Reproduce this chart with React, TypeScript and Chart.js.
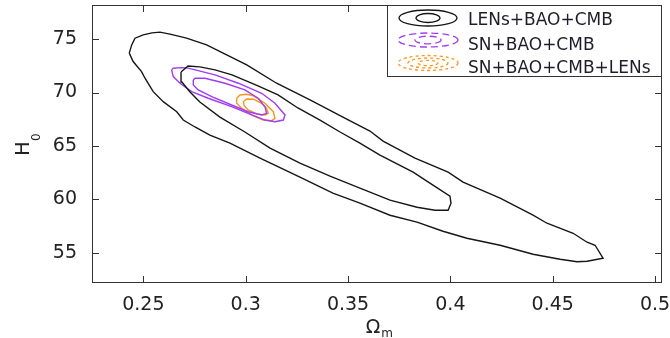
import React, { useEffect, useRef } from 'react';
import { Chart, registerables } from 'chart.js';

Chart.register(...registerables);

// ---- axis data ----
const xTicks = [0.25, 0.3, 0.35, 0.4, 0.45, 0.5];
const yTicks = [55, 60, 65, 70, 75];
const xRange = [0.2249, 0.5034];
const yRange = [52.15, 78.2];
const xTitle = 'Ω';
const xTitleSub = 'm';
const yTitle = 'H';
const yTitleSub = '0';

// ---- legend ----
const seriesNames = ['LENs+BAO+CMB', 'SN+BAO+CMB', 'SN+BAO+CMB+LENs'];
const seriesColors = ['#161616', '#a03cf2', '#f5961f'];

// ---- contours (Ωm, H0) ----
const lensOuter: [number, number][] = [
  [0.2431, 73.69], [0.2443, 74.46], [0.2459, 75.09], [0.2499, 75.4], [0.2542, 75.59],
  [0.2581, 75.66], [0.263, 75.47], [0.2711, 75.09], [0.2809, 74.46], [0.2907, 73.53],
  [0.3005, 72.59], [0.3151, 70.87], [0.3314, 69.3], [0.3475, 67.7], [0.3607, 66.39],
  [0.3671, 65.45], [0.3827, 63.85], [0.3989, 62.54], [0.4062, 61.6], [0.4243, 60.1],
  [0.4404, 58.5], [0.4472, 57.75], [0.46, 56.81], [0.4668, 55.97], [0.4707, 55.69],
  [0.4746, 54.47], [0.4668, 54.19], [0.4619, 54.14], [0.4536, 54.38], [0.4404, 54.84],
  [0.4243, 55.69], [0.4081, 56.34], [0.3964, 57.0], [0.3837, 57.85], [0.3705, 58.5],
  [0.3558, 59.63], [0.3426, 60.57], [0.3265, 62.07], [0.307, 63.85], [0.2923, 65.26],
  [0.2825, 66.01], [0.2752, 66.77], [0.2695, 67.42], [0.2663, 68.2], [0.2597, 69.14],
  [0.2548, 70.08], [0.2508, 71.34], [0.2491, 71.96], [0.245, 72.9],
];
const lensInner: [number, number][] = [
  [0.2684, 71.93], [0.2718, 72.49], [0.2776, 72.4], [0.285, 72.12], [0.2933, 71.65],
  [0.306, 70.62], [0.3158, 69.77], [0.3255, 68.55], [0.3363, 67.42], [0.3461, 66.3],
  [0.3558, 65.26], [0.3656, 64.14], [0.3818, 62.54], [0.3915, 61.32], [0.3998, 60.29],
  [0.4003, 59.63], [0.3989, 58.97], [0.3925, 58.97], [0.3837, 59.25], [0.3705, 59.91],
  [0.3558, 61.04], [0.3412, 62.16], [0.3265, 63.39], [0.3119, 64.79], [0.2996, 66.3],
  [0.2874, 67.7], [0.2776, 69.11], [0.2728, 70.05], [0.2688, 70.99],
];
const snOuter: [number, number][] = [
  [0.2638, 72.12], [0.2646, 72.28], [0.2687, 72.33], [0.2719, 72.28], [0.285, 71.65],
  [0.2964, 70.87], [0.3078, 69.93], [0.3143, 68.99], [0.3192, 67.89], [0.3184, 67.42],
  [0.3143, 67.26], [0.3094, 67.42], [0.3012, 68.05], [0.2931, 68.67], [0.2817, 69.46],
  [0.2736, 70.08], [0.2679, 70.87], [0.2646, 71.49],
];
const snInner: [number, number][] = [
  [0.2744, 71.18], [0.2752, 71.34], [0.2801, 71.34], [0.2899, 70.87], [0.2996, 70.24],
  [0.3061, 69.46], [0.3094, 68.67], [0.3102, 68.05], [0.3078, 67.89], [0.3012, 68.2],
  [0.2931, 68.83], [0.2834, 69.61], [0.2768, 70.24], [0.2744, 70.71],
];
const allOuter: [number, number][] = [
  [0.2956, 69.46], [0.2972, 69.77], [0.3005, 69.84], [0.3037, 69.7], [0.3094, 68.99],
  [0.3135, 68.2], [0.3143, 67.58], [0.3127, 67.36], [0.3086, 67.42], [0.3029, 67.89],
  [0.298, 68.52], [0.2956, 68.99],
];
const allInner: [number, number][] = [
  [0.2988, 69.14], [0.3005, 69.39], [0.3037, 69.37], [0.3078, 68.99], [0.3102, 68.52],
  [0.311, 68.05], [0.3094, 67.89], [0.3054, 67.99], [0.3012, 68.36], [0.2993, 68.77],
];

const contours: { pts: [number, number][]; series: number }[] = [
  { pts: lensOuter, series: 0 },
  { pts: lensInner, series: 0 },
  { pts: snOuter, series: 1 },
  { pts: snInner, series: 1 },
  { pts: allOuter, series: 2 },
  { pts: allInner, series: 2 },
];

const FONT = '"DejaVu Sans", "Liberation Sans", Arial, sans-serif';

const framePlugin = {
  id: 'matlabFrame',
  afterDatasetsDraw(chart: any) {
    const { ctx, chartArea: a, scales } = chart;
    const x = scales.x;
    const y = scales.y;
    ctx.save();
    ctx.strokeStyle = '#333';
    ctx.lineWidth = 1;
    ctx.strokeRect(a.left + 0.5, a.top + 0.5, a.right - a.left - 1, a.bottom - a.top - 1);
    ctx.beginPath();
    const tl = 7;
    for (const v of xTicks) {
      const px = Math.round(x.getPixelForValue(v)) + 0.5;
      ctx.moveTo(px, a.bottom);
      ctx.lineTo(px, a.bottom - tl);
      ctx.moveTo(px, a.top);
      ctx.lineTo(px, a.top + tl);
    }
    for (const v of yTicks) {
      const py = Math.round(y.getPixelForValue(v)) + 0.5;
      ctx.moveTo(a.left, py);
      ctx.lineTo(a.left + tl, py);
      ctx.moveTo(a.right, py);
      ctx.lineTo(a.right - tl, py);
    }
    ctx.stroke();
    ctx.restore();
  },
  afterDraw(chart: any) {
    const { ctx, chartArea: a } = chart;
    ctx.save();
    // legend box
    const bx = 387.5;
    const by = a.top + 0.5;
    const bw = a.right - 0.5 - bx;
    const bh = 71;
    ctx.fillStyle = '#fff';
    ctx.fillRect(bx, by, bw, bh);
    ctx.strokeStyle = '#333';
    ctx.lineWidth = 1;
    ctx.strokeRect(bx, by, bw, bh);

    const rows = [
      { cy: 18, base: 25, rings: [[29, 8], [12, 4.5]], dash: [] as number[] },
      { cy: 40, base: 49.5, rings: [[30, 7], [13, 3.8]], dash: [7, 4] },
      { cy: 63, base: 73, rings: [[30, 7.5], [20, 5], [10, 2.6]], dash: [3, 3] },
    ];
    rows.forEach((r, i) => {
      ctx.strokeStyle = seriesColors[i];
      ctx.lineWidth = 1.3;
      ctx.setLineDash(r.dash);
      for (const [rx, ry] of r.rings) {
        ctx.beginPath();
        ctx.ellipse(428, r.cy, rx, ry, 0, 0, Math.PI * 2);
        ctx.stroke();
      }
      ctx.setLineDash([]);
      ctx.fillStyle = '#1e1e2a';
      ctx.font = `17px ${FONT}`;
      ctx.textAlign = 'left';
      ctx.textBaseline = 'alphabetic';
      ctx.fillText(seriesNames[i], 468, r.base);
    });

    // x title
    ctx.fillStyle = '#222';
    ctx.font = `19px ${FONT}`;
    ctx.textAlign = 'left';
    ctx.textBaseline = 'alphabetic';
    const cx = (a.left + a.right) / 2;
    const wOm = ctx.measureText(xTitle).width;
    ctx.fillText(xTitle, cx - wOm / 2 - 4, 333);
    ctx.font = `12px ${FONT}`;
    ctx.fillText(xTitleSub, cx + wOm / 2 - 3, 337);

    // y title (rotated)
    ctx.save();
    ctx.translate(28.5, 155.8);
    ctx.rotate(-Math.PI / 2);
    ctx.font = `19px ${FONT}`;
    ctx.fillText(yTitle, 0, 0);
    const wH = ctx.measureText(yTitle).width;
    ctx.font = `12px ${FONT}`;
    ctx.fillText(yTitleSub, wH + 0.5, 11);
    ctx.restore();

    ctx.restore();
  },
};

export default function App() {
  const ref = useRef<HTMLCanvasElement | null>(null);

  useEffect(() => {
    document.body.style.margin = '0';
    const canvas = ref.current;
    if (!canvas) return;
    const datasets = contours.map((c) => ({
      data: [...c.pts, c.pts[0]].map(([om, h]) => ({ x: om, y: h })),
      showLine: true,
      borderColor: seriesColors[c.series],
      backgroundColor: seriesColors[c.series],
      borderWidth: 1.4,
      pointRadius: 0,
      tension: 0,
      fill: false,
    }));
    const chart = new Chart(canvas, {
      type: 'scatter',
      data: { datasets },
      plugins: [framePlugin],
      options: {
        animation: false,
        responsive: false,
        devicePixelRatio: 1,
        layout: { padding: { top: 5, right: 8, left: 0, bottom: 0 } },
        plugins: { legend: { display: false }, tooltip: { enabled: false } },
        scales: {
          x: {
            type: 'linear',
            min: xRange[0],
            max: xRange[1],
            grid: { display: false },
            border: { display: false },
            afterBuildTicks: (s: any) => {
              s.ticks = xTicks.map((v) => ({ value: v }));
            },
            afterFit: (s: any) => {
              s.height = 55;
              s.paddingLeft = 0;
              s.paddingRight = 0;
              s.paddingTop = 0;
              s.paddingBottom = 0;
            },
            ticks: {
              padding: 3,
              maxRotation: 0,
              autoSkip: false,
              color: '#222',
              font: { family: FONT, size: 19 },
              callback: (v: any) => String(Number(v)),
            },
          },
          y: {
            type: 'linear',
            min: yRange[0],
            max: yRange[1],
            grid: { display: false },
            border: { display: false },
            afterBuildTicks: (s: any) => {
              s.ticks = yTicks.map((v) => ({ value: v }));
            },
            afterFit: (s: any) => {
              s.width = 92;
              s.paddingTop = 0;
              s.paddingBottom = 0;
              s.paddingLeft = 0;
              s.paddingRight = 0;
            },
            ticks: {
              padding: 7,
              autoSkip: false,
              color: '#222',
              font: { family: FONT, size: 19 },
              callback: (v: any) => String(Number(v)),
            },
          },
        },
      },
    } as any);
    return () => chart.destroy();
  }, []);

  return (
    <div style={{ position: 'absolute', left: 0, top: 0, width: 670, height: 338 }}>
      <canvas ref={ref} width={670} height={338} style={{ display: 'block' }} />
    </div>
  );
}
